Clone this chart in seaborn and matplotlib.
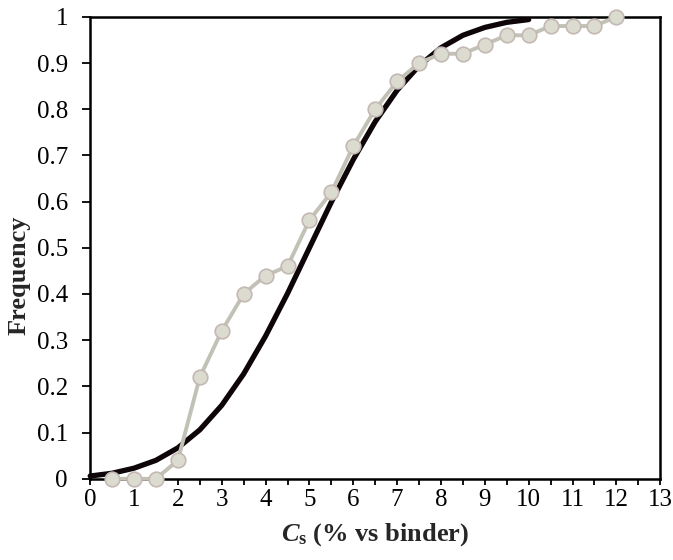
import numpy as np
import pandas as pd
import matplotlib
matplotlib.use("Agg")
import matplotlib.pyplot as plt
from matplotlib.ticker import MultipleLocator
import seaborn as sns

### Data
# fitted cumulative curve (black)
fit_x = [0, 0.5, 1, 1.5, 2, 2.5, 3, 3.5, 4, 4.5, 5, 5.5, 6, 6.5, 7, 7.5, 8, 8.5, 9, 9.5, 10]
fit_y = [0.006, 0.012, 0.023, 0.040, 0.067, 0.106, 0.159, 0.227, 0.309, 0.401, 0.500,
         0.599, 0.691, 0.773, 0.841, 0.894, 0.933, 0.960, 0.977, 0.988, 0.994]
# observed cumulative frequency (grey)
obs_x = [0.5, 1, 1.5, 2, 2.5, 3, 3.5, 4, 4.5, 5, 5.5, 6, 6.5, 7, 7.5, 8,
         8.5, 9, 9.5, 10, 10.5, 11, 11.5, 12]
obs_y = [0, 0, 0, 0.04, 0.22, 0.32, 0.40, 0.44, 0.46, 0.56, 0.62, 0.72, 0.80, 0.86,
         0.90, 0.92, 0.92, 0.94, 0.96, 0.96, 0.98, 0.98, 0.98, 1.0]

fit = pd.DataFrame({"Cs": fit_x, "freq": fit_y})
obs = pd.DataFrame({"Cs": obs_x, "freq": obs_y})

### Style
sns.set_style("ticks")
plt.rcParams["font.family"] = ["Liberation Serif", "DejaVu Serif"]
plt.rcParams["mathtext.fontset"] = "custom"
plt.rcParams["mathtext.it"] = "Liberation Serif:italic:bold"
plt.rcParams["mathtext.rm"] = "Liberation Serif:bold"

fig = plt.figure(figsize=(6.73, 5.6), dpi=100)
ax = fig.add_axes([0.134, 0.145, 0.847, 0.825])

sns.lineplot(data=fit, x="Cs", y="freq", ax=ax, color="#0d0508", linewidth=3.8,
             zorder=3, clip_on=False)
sns.lineplot(data=obs, x="Cs", y="freq", ax=ax, color="#c2c1b6", linewidth=2.8,
             marker="o", markersize=10.5, markerfacecolor="#dcdbcf",
             markeredgecolor="#c4b8b4", markeredgewidth=1.2, zorder=4, clip_on=False)

ax.set_xlim(0, 13)
ax.set_ylim(0, 1)
ax.xaxis.set_major_locator(MultipleLocator(1))
ax.xaxis.set_minor_locator(MultipleLocator(0.5))
ax.yaxis.set_major_locator(MultipleLocator(0.1))
ax.set_yticklabels([f"{v:g}" for v in np.round(ax.get_yticks(), 1)])

ax.tick_params(axis="both", which="major", direction="out", width=1.3,
               labelsize=18, color="black", labelcolor="black")
ax.tick_params(axis="x", which="both", length=4, width=1.3, pad=3, color="black")
ax.tick_params(axis="y", length=6, pad=10)

for s in ax.spines.values():
    s.set_visible(True)
    s.set_color("black")
    s.set_linewidth(1.8)

ax.set_xlabel(r"$C_\mathrm{s}$ (% vs binder)", fontsize=19, fontweight="bold", labelpad=8)
ax.set_ylabel("Frequency", fontsize=19, fontweight="bold")
ax.yaxis.set_label_coords(-0.105, 0.44)

fig.savefig("out.png", dpi=100)
